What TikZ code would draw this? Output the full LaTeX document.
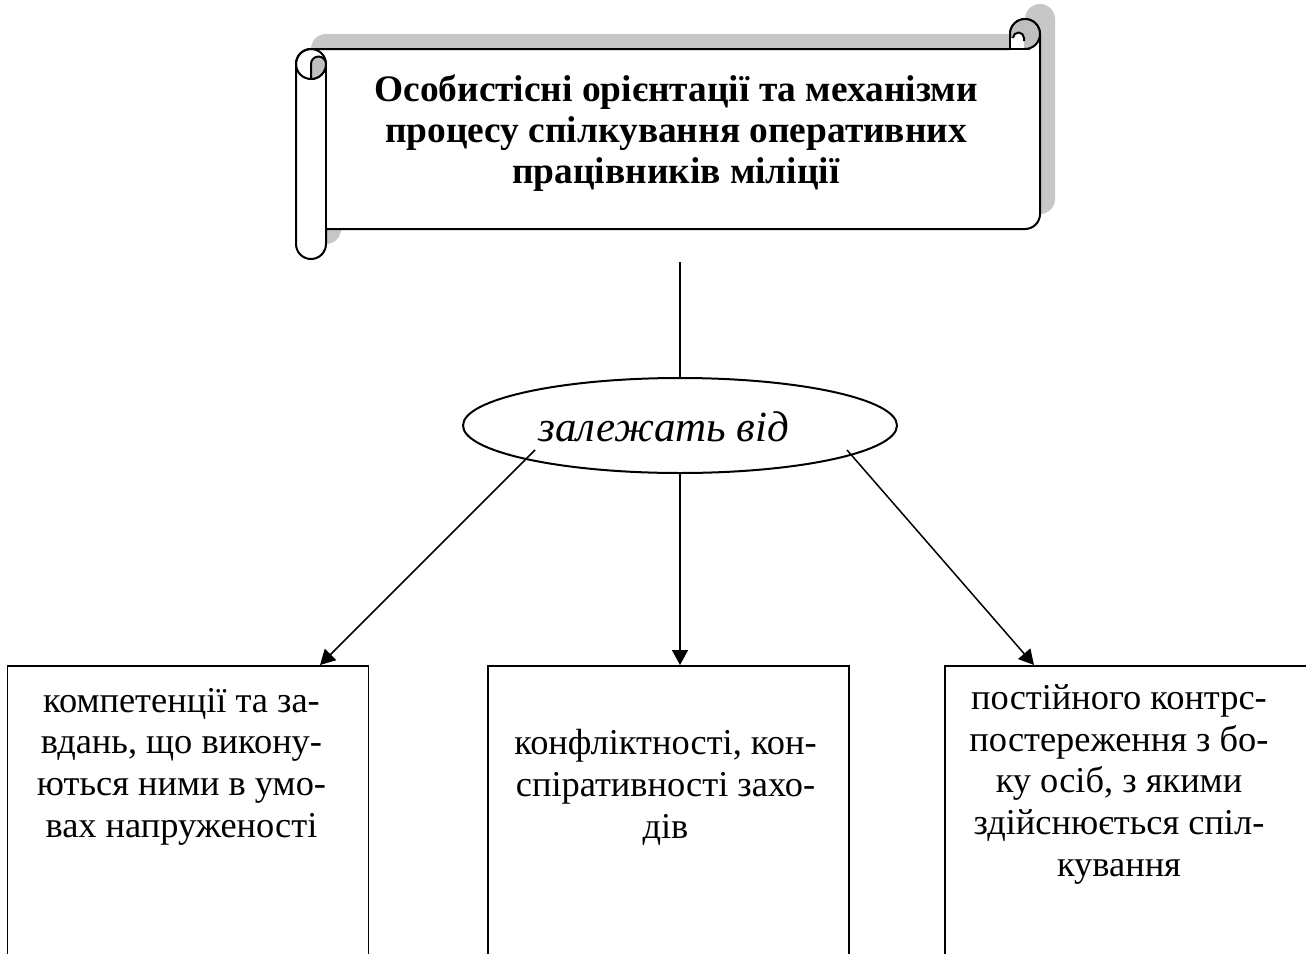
\documentclass[tikz,border=0pt]{standalone}
\usepackage{fontspec}
\setmainfont{Liberation Serif}
\usetikzlibrary{shapes.geometric,arrows.meta}
\newcommand\scrollshape{(296,64) arc[start angle=180,end angle=270,radius=15] -- (1010,49) -- (1010,34) arc[start angle=180,end angle=360,radius=15] -- (1040,214) arc[start angle=0,end angle=90,radius=15] -- (326,229) -- (326,244) arc[start angle=0,end angle=180,radius=15] -- cycle}
\begin{document}
\begin{tikzpicture}[x=0.5pt,y=-0.5pt,
  outline/.style={line width=1pt, line join=round},
  shade/.style={fill=black!22},
  curl/.style={fill=black!25},
  conn/.style={line width=0.75pt},
  arr/.style={conn,-{Triangle[length=7.5pt,width=8pt]}},
  box/.style={draw, line width=0.8pt, minimum width=180.5pt, minimum height=160pt, anchor=north west, inner sep=0pt},
  boxtext/.style={align=center, anchor=base, font=\fontsize{18.2}{20.8}\selectfont, inner sep=0pt},
  ]
\useasboundingbox (0,0) rectangle (1306,953);
\fill[white] (0,0) rectangle (1306,953);
\begin{scope}
\clip (0,0) rectangle (1306,953);
% scroll banner
\fill[shade,shift={(15,-15)}] \scrollshape;
\draw[outline, fill=white] \scrollshape;
\draw[outline] (326,64) -- (326,229);
\draw[outline] (311,64) circle[radius=15];
\draw[outline, curl] (311,79) -- (311,64) arc[start angle=180,end angle=360,radius=7.5] arc[start angle=0,end angle=90,radius=15] -- cycle;
\draw[outline, curl] (1025,34) circle[radius=15];
\fill[white] (1010.5,48.5) -- (1010.5,38) -- (1013,38) arc[start angle=180,end angle=360,radius=5.5] -- (1024,48.5) -- cycle;
\draw[outline] (1013,38) arc[start angle=180,end angle=360,radius=5.5] -- (1024,41);
\draw[outline] (1010,34) -- (1010,49) -- (1030,49);
\node[align=center, font=\bfseries\fontsize{18.7}{20.5}\selectfont, anchor=base, inner sep=0pt] (title) at (676,183) {Особистісні орієнтації та механізми\\процесу спілкування оперативних\\працівників міліції};

% ellipse
\node[ellipse, draw, line width=1pt, minimum width=217pt, minimum height=47.5pt, inner sep=0pt] (ell) at (680,425.5) {};
\node[font=\itshape\fontsize{21.5}{25}\selectfont, anchor=base, inner sep=0pt] (ellt) at (664,441.7) {залежать від};

% boxes
\node[box] (b1) at (6.5,665) {};
\node[box] (b2) at (487,665) {};
\node[box, minimum width=183pt] (b3) at (944,665) {};
\node[boxtext] (t1) at (181.5,837) {компетенції та за-\\вдань, що викону-\\ються ними в умо-\\вах напруженості};
\node[boxtext] (t2) at (665.5,838) {конфліктності, кон-\\спіративності захо-\\дів};
\node[boxtext] (t3) at (1119,876) {постійного контрс-\\постереження з бо-\\ку осіб, з якими\\здійснюється спіл-\\кування};

% connectors
\coordinate (top) at (680,262);
\coordinate (s1) at (535,450);
\coordinate (e1) at (320,665);
\coordinate (s3) at (847,450);
\coordinate (e3) at (1034,665);
\draw[conn] (top) -- (ell.north);
\draw[arr] (s1) -- (e1);
\draw[arr] (ell.south) -- (ell.south |- b2.north);
\draw[arr] (s3) -- (e3);
\end{scope}
\end{tikzpicture}
\end{document}
